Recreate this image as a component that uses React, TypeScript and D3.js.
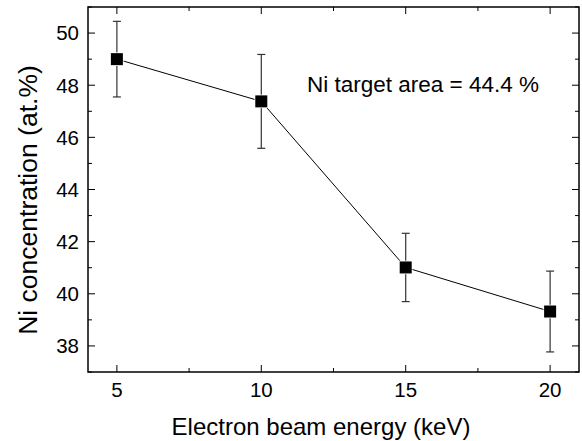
import React from "react";
import * as d3 from "d3";

const energies = [5, 10, 15, 20];
const niConc = [49.0, 47.38, 41.01, 39.32];
const niErr = [1.45, 1.8, 1.31, 1.55];
const xTicks = [5, 10, 15, 20];
const yTicks = [38, 40, 42, 44, 46, 48, 50];

const W = 582;
const H = 441;
const margin = { top: 7, right: 3, bottom: 69, left: 88 };
const font = "'Liberation Sans', Arial, Helvetica, sans-serif";

const App = () => {
  const iw = W - margin.left - margin.right;
  const ih = H - margin.top - margin.bottom;

  const x = d3.scaleLinear().domain([4, 21]).range([0, iw]);
  const y = d3.scaleLinear().domain([37, 51]).range([ih, 0]);

  const pts = energies.map((e, i) => ({ e, v: niConc[i], err: niErr[i] }));
  const line = d3
    .line<{ e: number; v: number }>()
    .x((d) => x(d.e))
    .y((d) => y(d.v));

  // minor ticks: every 2.5 keV on x, every 1 % on y
  const xMinor = d3.range(7.5, 21, 5);
  const yMinor = d3.range(37, 51.01, 2);

  const majorLen = 7;
  const minorLen = 4;

  return (
    <svg
      width={W}
      height={H}
      style={{ position: "absolute", left: 0, top: 0, background: "#fff" }}
      fontFamily={font}
    >
      <g transform={`translate(${margin.left},${margin.top})`}>
        {/* frame */}
        <rect x={0} y={0} width={iw} height={ih} fill="none" stroke="#000" strokeWidth={1.5} />

        {/* x ticks bottom + top */}
        {xTicks.map((t) => (
          <g key={"xt" + t}>
            <line x1={x(t)} x2={x(t)} y1={ih} y2={ih - majorLen} stroke="#000" />
            <line x1={x(t)} x2={x(t)} y1={0} y2={majorLen} stroke="#000" />
            <text x={x(t)} y={ih + 25} textAnchor="middle" fontSize={20.5} fill="#000">
              {t}
            </text>
          </g>
        ))}
        {xMinor.map((t) => (
          <g key={"xm" + t}>
            <line x1={x(t)} x2={x(t)} y1={ih} y2={ih - minorLen} stroke="#000" />
            <line x1={x(t)} x2={x(t)} y1={0} y2={minorLen} stroke="#000" />
          </g>
        ))}

        {/* y ticks left + right */}
        {yTicks.map((t) => (
          <g key={"yt" + t}>
            <line x1={0} x2={majorLen} y1={y(t)} y2={y(t)} stroke="#000" />
            <line x1={iw} x2={iw - majorLen} y1={y(t)} y2={y(t)} stroke="#000" />
            <text x={-9} y={y(t)} dy="0.36em" textAnchor="end" fontSize={20.5} fill="#000">
              {t}
            </text>
          </g>
        ))}
        {yMinor.map((t) => (
          <g key={"ym" + t}>
            <line x1={0} x2={minorLen} y1={y(t)} y2={y(t)} stroke="#000" />
            <line x1={iw} x2={iw - minorLen} y1={y(t)} y2={y(t)} stroke="#000" />
          </g>
        ))}

        {/* connecting line */}
        <path d={line(pts) || ""} fill="none" stroke="#000" strokeWidth={1} />

        {/* error bars */}
        {pts.map((d) => (
          <g key={"eb" + d.e} stroke="#333" strokeWidth={1.2}>
            <line x1={x(d.e)} x2={x(d.e)} y1={y(d.v - d.err)} y2={y(d.v + d.err)} />
            <line x1={x(d.e) - 4} x2={x(d.e) + 4} y1={y(d.v + d.err)} y2={y(d.v + d.err)} />
            <line x1={x(d.e) - 4} x2={x(d.e) + 4} y1={y(d.v - d.err)} y2={y(d.v - d.err)} />
          </g>
        ))}

        {/* markers */}
        {pts.map((d) => (
          <rect
            key={"m" + d.e}
            x={x(d.e) - 6}
            y={y(d.v) - 6}
            width={12}
            height={12}
            fill="#000"
            stroke="#fff"
            strokeWidth={1.5}
            paintOrder="stroke"
          />
        ))}

        <text x={307 - margin.left} y={92 - margin.top} fontSize={22.5} fill="#000">
          Ni target area = 44.4 %
        </text>
      </g>

      <text x={321} y={435} textAnchor="middle" fontSize={24} fill="#000">
        Electron beam energy (keV)
      </text>
      <text
        transform={`translate(37,200) rotate(-90)`}
        textAnchor="middle"
        fontSize={26.5}
        fill="#000"
      >
        Ni concentration (at.%)
      </text>
    </svg>
  );
};

export default App;
